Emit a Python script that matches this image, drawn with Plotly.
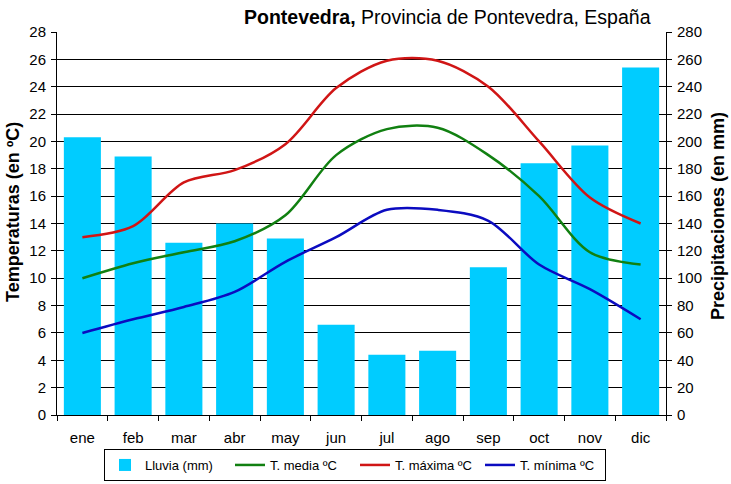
import plotly.graph_objects as go

months = ["ene", "feb", "mar", "abr", "may", "jun", "jul", "ago", "sep", "oct", "nov", "dic"]
lluvia = [203, 189, 126, 140, 129, 66, 44, 47, 108, 184, 197, 254]
t_media = [10, 11.1, 11.9, 12.7, 14.6, 19, 20.9, 21, 19, 16, 11.9, 11]
t_max = [13, 13.8, 17, 17.9, 19.8, 23.9, 25.9, 25.9, 24, 20, 15.9, 14]
t_min = [6, 7, 7.9, 9, 11.2, 13, 15, 15, 14.2, 11, 9.2, 7]

FONT = "Liberation Sans, Arial, sans-serif"

L, R, T, B = 57, 65, 32, 69
W, H = 731, 484
PW, PH = W - L - R, H - T - B


def px(x):
    return (x - L) / PW


def py(y):
    return (H - B - y) / PH


fig = go.Figure()
fig.add_trace(go.Bar(x=months, y=lluvia, name="Lluvia (mm)", marker=dict(color="#00CCFF", line=dict(width=0)),
                     yaxis="y"))
fig.add_trace(go.Scatter(x=months, y=t_media, name="T. media ºC", mode="lines",
                         line=dict(color="#118011", width=2.5, shape="spline", smoothing=0.9), yaxis="y2"))
fig.add_trace(go.Scatter(x=months, y=t_max, name="T. máxima ºC", mode="lines",
                         line=dict(color="#D01515", width=2.5, shape="spline", smoothing=0.9), yaxis="y2"))
fig.add_trace(go.Scatter(x=months, y=t_min, name="T. mínima ºC", mode="lines",
                         line=dict(color="#0B0BC0", width=2.5, shape="spline", smoothing=0.9), yaxis="y2"))

axis_common = dict(showline=True, linecolor="black", linewidth=1, ticks="outside", ticklen=5,
                   tickcolor="black", tickfont=dict(family=FONT, size=15, color="black"), zeroline=False)

fig.update_layout(
    width=W, height=H,
    margin=dict(l=L, r=R, t=T, b=B, autoexpand=False),
    paper_bgcolor="white", plot_bgcolor="white",
    bargap=0.27,
    showlegend=True,
    legend=dict(orientation="h", x=px(355), xanchor="center", y=py(465), yanchor="middle",
                bordercolor="black", borderwidth=1, font=dict(family=FONT, size=13, color="black"),
                entrywidth=80, traceorder="normal", itemwidth=30, tracegroupgap=0),
    xaxis=dict(**axis_common, tickson="boundaries", showgrid=False, ticklabelstandoff=9),
    yaxis=dict(**axis_common, range=[0, 280], dtick=20, side="right", showgrid=True,
               gridcolor="black", gridwidth=1, ticklabelstandoff=2),
    yaxis2=dict(**axis_common, range=[0, 28], dtick=2, side="left", overlaying="y", showgrid=False,
                ticklabelstandoff=2),
    annotations=[
        dict(text="<b>Pontevedra,</b> Provincia de Pontevedra, España", xref="paper", yref="paper",
             x=px(447), y=py(17), xanchor="center", yanchor="middle", showarrow=False,
             font=dict(family=FONT, size=19.5, color="black")),
        dict(text="<b>Temperaturas (en ºC)</b>", xref="paper", yref="paper",
             x=px(13), y=py(212), xanchor="center", yanchor="middle", showarrow=False,
             textangle=-90, font=dict(family=FONT, size=18, color="black")),
        dict(text="<b>Precipitaciones (en mm)</b>", xref="paper", yref="paper",
             x=px(718), y=py(216), xanchor="center", yanchor="middle", showarrow=False,
             textangle=-90, font=dict(family=FONT, size=18, color="black")),
    ],
)

fig.write_html("out.html")
